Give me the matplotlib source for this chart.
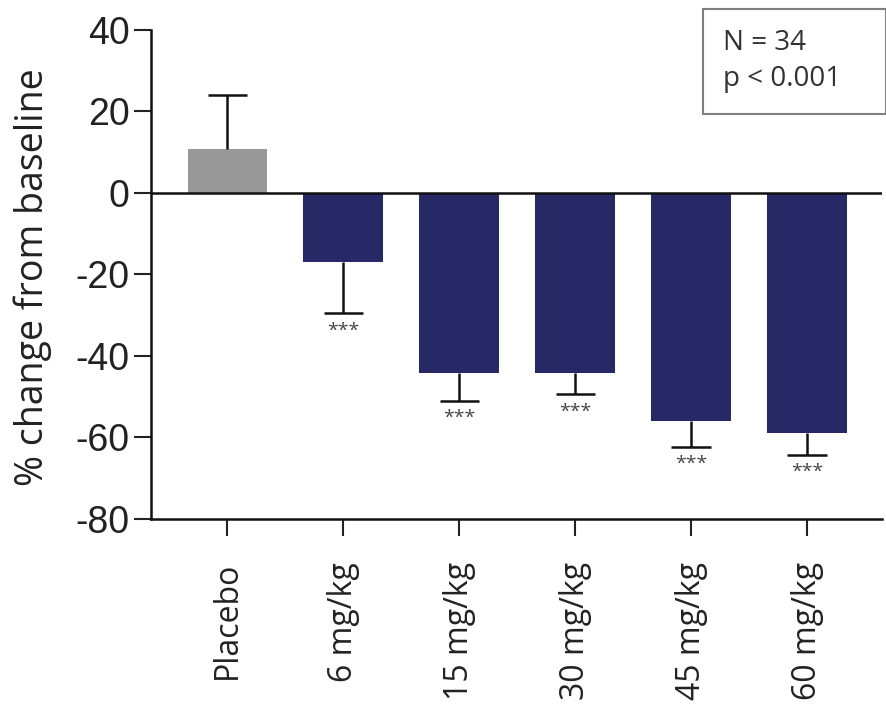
import matplotlib
matplotlib.use("Agg")
import matplotlib.pyplot as plt
from matplotlib.patches import Rectangle
import numpy as np

categories = ["Placebo", "6 mg/kg", "15 mg/kg", "30 mg/kg", "45 mg/kg", "60 mg/kg"]
values = [10.7, -17.0, -44.2, -44.2, -55.9, -58.9]
errors = [13.3, 12.6, 6.8, 5.2, 6.4, 5.3]
stars = ["", "***", "***", "***", "***", "***"]
bar_colors = ["#999999", "#262966", "#262966", "#262966", "#262966", "#262966"]
yticks = [-80, -60, -40, -20, 0, 20, 40]

fig = plt.figure(figsize=(8.87, 7.08), dpi=100)
ax = fig.add_axes([151/887, 1-519/708, (882-151)/887, (519-29.5)/708])

x = np.arange(len(categories))
ax.bar(x, values, width=0.69, color=bar_colors, zorder=2)
# one-sided error bars (away from zero), cap only at the outer end
ends = [v + e if v >= 0 else v - e for v, e in zip(values, errors)]
ax.vlines(x, values, ends, color="#111111", lw=1.8, zorder=3)
ax.hlines(ends, x - 0.17, x + 0.17, color="#111111", lw=1.8, zorder=3)
for xi, end, s in zip(x, ends, stars):
    if s:
        ax.annotate(s, (xi, end), xytext=(0, -6), textcoords="offset points",
                    ha="center", va="top", fontsize=14, color="#444444", family="Open Sans")

ax.axhline(0, color="#111111", lw=1.8, zorder=4)
ax.set_xlim(-0.66, 5.647)
ax.set_ylim(-80, 40)
ax.set_yticks(yticks)
ax.set_yticklabels([str(t) for t in yticks], fontsize=27, family="Liberation Sans", color="#222222")
ax.set_xticks(x)
ax.set_xticklabels(categories, rotation=90, fontsize=23, family="Open Sans", color="#222222")
ax.tick_params(axis="both", direction="out", length=12, width=1.5, color="#222222")
ax.tick_params(axis="x", pad=19)
ax.tick_params(axis="y", pad=3.5)
for sp in ["top", "right"]:
    ax.spines[sp].set_visible(False)
for sp in ["left", "bottom"]:
    ax.spines[sp].set_linewidth(1.8)
    ax.spines[sp].set_color("#111111")
ax.set_ylabel("% change from baseline", fontsize=27, family="Open Sans", color="#222222")
ax.yaxis.set_label_coords(-0.135, 0.495)

fig.patches.append(Rectangle((703/887, 1-114/708), (886/887 - 703/887), (114-9.5)/708,
                             transform=fig.transFigure, fill=False, edgecolor="#808080", lw=1.5))
fig.text(723/887, 1-50/708, "N = 34", fontsize=20, family="Open Sans", color="#333333", va="baseline")
fig.text(723/887, 1-86/708, "p < 0.001", fontsize=20, family="Open Sans", color="#333333", va="baseline")

fig.savefig("out.png", dpi=100)
